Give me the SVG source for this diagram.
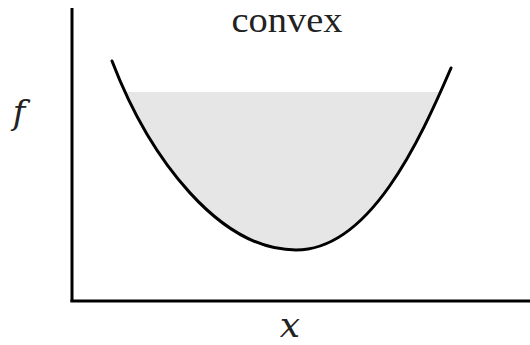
<svg xmlns="http://www.w3.org/2000/svg" width="530" height="345" viewBox="0 0 530 345">
<style>
.axis{stroke:#000;stroke-width:3;fill:none}
.curve{stroke:#000;stroke-width:3;fill:none;stroke-linecap:round}
.lbl{fill:#222}
</style>
<defs>
<clipPath id="below"><rect x="0" y="92" width="530" height="253"/></clipPath>
</defs>
<rect width="530" height="345" fill="#fff"/>
<g id="fill-region">
<path d="M112,61 C150,160 220,250 296,250 C370,250 420,140 451,68 Z" fill="#e6e6e6" clip-path="url(#below)"/>
</g>
<g id="axes">
<line class="axis" x1="72" y1="8" x2="72" y2="302"/>
<line class="axis" x1="70.5" y1="301" x2="530" y2="301"/>
</g>
<g id="curve">
<path class="curve" d="M112,61 C150,160 220,250 296,250 C370,250 420,140 451,68"/>
</g>
<g id="labels">
<text class="lbl" x="287" y="32" font-size="36" text-anchor="middle" textLength="111" lengthAdjust="spacingAndGlyphs" font-family="'Liberation Serif', serif">convex</text>
<text class="lbl" x="19" y="124" font-size="34" font-style="italic" text-anchor="middle" font-family="'DejaVu Serif', 'Liberation Serif', serif">f</text>
<text class="lbl" x="290" y="337" font-size="36" font-style="italic" text-anchor="middle" font-family="'DejaVu Serif', 'Liberation Serif', serif">x</text>
</g>
</svg>
